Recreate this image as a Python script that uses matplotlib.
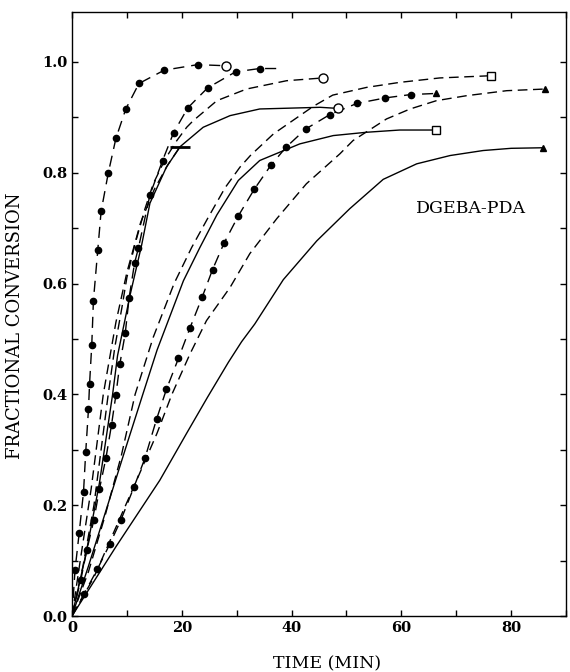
import matplotlib
matplotlib.use("Agg")
import matplotlib.pyplot as plt
from matplotlib.ticker import MultipleLocator, FormatStrFormatter

# curves with filled dots (time in min, fractional conversion)
a_t = [0.55, 1.3, 2.1, 2.5, 3.0, 3.2, 3.6, 3.9, 4.7, 5.3, 6.6, 8.0, 9.8, 12.2, 16.8, 22.9]
a_x = [0.083, 0.149, 0.224, 0.296, 0.373, 0.419, 0.489, 0.569, 0.661, 0.730, 0.799, 0.862, 0.915, 0.961, 0.985, 0.995]
a_end = (28.0, 0.993)

b_t = [1.6, 2.7, 4.0, 5.0, 6.2, 7.2, 8.0, 8.7, 9.7, 10.4, 11.4, 12.1, 14.2, 16.5, 18.5, 21.1, 24.7, 29.8, 34.2]
b_x = [0.065, 0.119, 0.174, 0.229, 0.286, 0.345, 0.399, 0.454, 0.510, 0.574, 0.637, 0.664, 0.760, 0.822, 0.872, 0.917, 0.953, 0.982, 0.988]
b_end = (37.3, 0.988)

c_t = [2.2, 4.6, 6.9, 8.9, 11.3, 13.3, 15.4, 17.2, 19.4, 21.5, 23.7, 25.6, 27.7, 30.3, 33.2, 36.2, 39.0, 42.6, 47.0, 51.9, 57.1, 61.7]
c_x = [0.040, 0.084, 0.130, 0.173, 0.233, 0.285, 0.355, 0.409, 0.465, 0.520, 0.575, 0.625, 0.673, 0.722, 0.770, 0.813, 0.846, 0.879, 0.905, 0.925, 0.935, 0.941]
c_end = (66.3, 0.943)

# dashed curves
k_t = [0, 1.5, 3.5, 5.7, 8.0, 10.0, 12.5, 15.0, 17.5, 19.7]
k_x = [0, 0.10, 0.23, 0.40, 0.53, 0.62, 0.71, 0.77, 0.815, 0.847]

e_t = [0, 2.0, 4.0, 6.6, 7.8, 9.1, 10.0, 11.5, 13.3, 14.8, 17.0, 19.1, 20.9, 22.1, 26.4, 31.8, 39.1, 45.7]
e_x = [0, 0.09, 0.20, 0.40, 0.485, 0.557, 0.611, 0.672, 0.735, 0.78, 0.825, 0.858, 0.882, 0.894, 0.930, 0.951, 0.966, 0.971]

g_t = [0, 3.0, 6.0, 9.0, 11.5, 14.8, 18.6, 21.8, 24.8, 27.9, 30.6, 32.5, 36.7, 44.0, 47.5, 53.7, 59.7, 67.0, 76.3]
g_x = [0, 0.08, 0.18, 0.29, 0.40, 0.503, 0.600, 0.665, 0.719, 0.773, 0.810, 0.831, 0.870, 0.920, 0.940, 0.954, 0.963, 0.971, 0.975]

h_t = [0, 4.0, 8.0, 12.0, 15.5, 18.2, 21.5, 24.5, 28.8, 32.4, 37.3, 42.7, 48.8, 51.2, 57.3, 61.6, 66.4, 71.9, 79.2, 86.2]
h_x = [0, 0.07, 0.16, 0.25, 0.33, 0.40, 0.473, 0.533, 0.593, 0.654, 0.717, 0.780, 0.834, 0.858, 0.897, 0.915, 0.930, 0.939, 0.948, 0.951]

# solid curves
d_t = [0, 2.5, 5.0, 7.4, 8.3, 10.6, 12.7, 14.2, 17.2, 19.7, 23.9, 28.8, 34.2, 45.2, 48.5]
d_x = [0, 0.11, 0.24, 0.40, 0.47, 0.58, 0.67, 0.745, 0.81, 0.847, 0.882, 0.903, 0.915, 0.918, 0.916]

f_t = [0, 3.0, 6.5, 10.0, 12.9, 15.5, 20.3, 23.3, 26.4, 30.3, 34.2, 41.5, 47.6, 53.7, 59.7, 66.3]
f_x = [0, 0.09, 0.20, 0.31, 0.40, 0.48, 0.605, 0.665, 0.724, 0.786, 0.822, 0.852, 0.867, 0.873, 0.877, 0.877]

i_t = [0, 8.0, 16.0, 20.9, 24.7, 28.5, 30.9, 33.3, 38.5, 44.6, 50.6, 56.7, 62.8, 68.9, 74.9, 80.0, 85.8]
i_x = [0, 0.125, 0.245, 0.330, 0.395, 0.458, 0.495, 0.527, 0.607, 0.677, 0.735, 0.788, 0.816, 0.831, 0.840, 0.844, 0.845]

serif = "DejaVu Serif"

fig = plt.figure(figsize=(5.7, 6.72), dpi=100)
ax = fig.add_axes([72/570, 56/672, 494/570, 604/672])

dotdash = (0, (8, 5))
shortdash = (0, (7, 4))
lw = 1.0

# dotted series: line from origin through the dots to the end point
for t, x, end, mk in [(a_t, a_x, a_end, "o_open"), (b_t, b_x, b_end, None), (c_t, c_x, c_end, "^")]:
    ax.plot([0] + t + [end[0]], [0] + x + [end[1]], color="black", lw=lw, ls=dotdash)
    ax.plot(t, x, "o", color="black", ms=4.5)
    if mk == "o_open":
        ax.plot(*end, "o", mfc="white", mec="black", ms=6.5, mew=1.0)
    elif mk == "^":
        ax.plot(*end, "^", color="black", ms=4.5)

ax.plot(k_t, k_x, color="black", lw=lw, ls=shortdash)
ax.plot(k_t[-1], k_x[-1], "_", color="black", ms=15, mew=2.0)
ax.plot(e_t, e_x, color="black", lw=lw, ls=shortdash)
ax.plot(e_t[-1], e_x[-1], "o", mfc="white", mec="black", ms=6.5, mew=1.0)
ax.plot(g_t, g_x, color="black", lw=lw, ls=shortdash)
ax.plot(g_t[-1], g_x[-1], "s", mfc="white", mec="black", ms=5.5, mew=1.0)
ax.plot(h_t, h_x, color="black", lw=lw, ls=shortdash)
ax.plot(h_t[-1], h_x[-1], "^", color="black", ms=4.5)

ax.plot(d_t, d_x, color="black", lw=lw)
ax.plot(d_t[-1], d_x[-1], "o", mfc="white", mec="black", ms=6.5, mew=1.0)
ax.plot(f_t, f_x, color="black", lw=lw)
ax.plot(f_t[-1], f_x[-1], "s", mfc="white", mec="black", ms=5.5, mew=1.0)
ax.plot(i_t, i_x, color="black", lw=lw)
ax.plot(i_t[-1], i_x[-1], "^", color="black", ms=4.5)

ax.text(72.7, 0.735, "DGEBA-PDA", ha="center", va="center", fontsize=12.5, family=serif)

ax.set_xlim(0, 90)
ax.set_ylim(0, 1.09)
ax.xaxis.set_major_locator(MultipleLocator(20))
ax.xaxis.set_minor_locator(MultipleLocator(10))
ax.yaxis.set_major_locator(MultipleLocator(0.2))
ax.yaxis.set_minor_locator(MultipleLocator(0.1))
ax.yaxis.set_major_formatter(FormatStrFormatter("%.1f"))
ax.tick_params(which="both", direction="in", top=True, right=True, length=4, width=1.0)
for lab in ax.get_xticklabels() + ax.get_yticklabels():
    lab.set_family(serif)
    lab.set_fontsize(10.5)
    lab.set_fontweight("bold")
for s in ax.spines.values():
    s.set_linewidth(1.0)

ax.set_xlabel("TIME (MIN)", fontsize=12.5, family=serif)
ax.set_ylabel("FRACTIONAL CONVERSION", fontsize=13, family=serif)
ax.xaxis.set_label_coords(0.516, -0.066)
ax.yaxis.set_label_coords(-0.097, 0.48)

fig.savefig("out.png", dpi=100)
